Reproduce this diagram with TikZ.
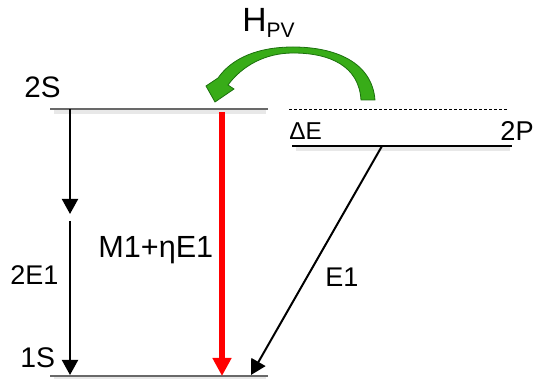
\documentclass[tikz,border=0pt]{standalone}
\usepackage{fontspec}
\setmainfont{Liberation Sans}
\usetikzlibrary{arrows.meta}

\begin{document}
\begin{tikzpicture}[x=0.5pt,y=-0.5pt,font=\fontsize{14.8}{17}\selectfont,
  lbl/.style={anchor=base west, inner sep=0pt},
  lvl/.style={line width=0.75pt},
  glow/.style={black!9, line width=2pt},
  decay/.style={line width=1pt, -{Triangle[length=7.5pt,width=8pt]}}]
  \definecolor{lvlgray}{RGB}{105,105,105}
  \definecolor{pvgreen}{RGB}{56,172,24}
  \definecolor{pvedge}{RGB}{28,112,14}
  \useasboundingbox (0,0) rectangle (537,379);

  \foreach \name/\y in {sTwo/109, sOne/376} {
    \draw[glow] (54,\y+3.5) -- (266,\y+3.5);
    \coordinate (\name L) at (50,\y);
    \coordinate (\name R) at (268,\y);
    \draw[lvl, lvlgray] (\name L) -- (\name R);
  }
  \draw[glow] (296,149.5) -- (510,149.5);
  \coordinate (pTwoL) at (292,146);
  \coordinate (pTwoR) at (512,146);
  \draw[lvl, black] (pTwoL) -- (pTwoR);
  \coordinate (dotL) at (289,110);
  \coordinate (dotR) at (507,110);
  \draw[line width=0.5pt, dash pattern=on 1.5pt off 1pt] (dotL) -- (dotR);

  \node[lbl] (labTwoS) at (24,98) {2S};
  \node[lbl, font=\fontsize{14.2}{17}\selectfont] (labOneS) at (20,368) {1S};
  \node[lbl, font=\fontsize{13.6}{16}\selectfont] (labTwoP) at (500,141) {2P};
  \node[lbl, font=\fontsize{12.2}{14}\selectfont] (labDE) at (289,140) {ΔE};
  \node[lbl, font=\fontsize{13.5}{16}\selectfont] (labTwoE) at (10,285) {2E1};
  \node[lbl, font=\fontsize{15.3}{18}\selectfont] (labMix) at (98,258) {M1+ηE1};
  \node[lbl, font=\fontsize{13.5}{16}\selectfont] (labEOne) at (325,287) {E1};
  \node[lbl, font=\fontsize{16.8}{19}\selectfont] (labHpv) at (242,32)
    {H\raisebox{-3pt}{\fontsize{10.5}{12}\selectfont PV}};

  \coordinate (twoEtop) at (70,109);
  \coordinate (twoEmid) at (70,214);
  \coordinate (twoEgo) at (70,221);
  \coordinate (twoEbot) at (70,375);
  \draw[decay] (twoEtop) -- (twoEmid);
  \draw[decay] (twoEgo) -- (twoEbot);

  \coordinate (mixTop) at (222,112);
  \coordinate (mixBot) at (222,376);
  \draw[line width=3pt, red, -{Triangle[length=9pt,width=9pt]}] (mixTop) -- (mixBot);

  \coordinate (eOneTop) at (382,146);
  \coordinate (eOneBot) at (251,375);
  \draw[decay] (eOneTop) -- (eOneBot);

  \filldraw[fill=pvgreen, draw=pvedge, line width=0.4pt]
    (375,100) .. controls (372,62) and (335,47) .. (293,47)
    .. controls (258,47) and (232,58) .. (218,78)
    -- (206,86) -- (215,102) -- (234,89) -- (228,85)
    .. controls (242,66) and (265,53) .. (293,53)
    .. controls (330,53) and (359,66) .. (361,100) -- cycle;
\end{tikzpicture}
\end{document}
